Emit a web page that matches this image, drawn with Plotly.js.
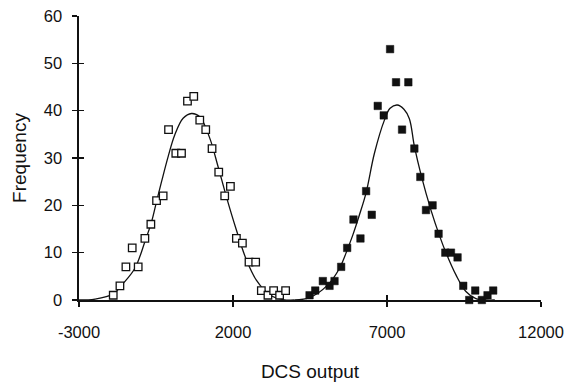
<!DOCTYPE html>
<html>
<head>
<meta charset="utf-8">
<script src="https://cdn.plot.ly/plotly-3.0.1.min.js"></script>
<style>html,body{margin:0;padding:0;background:#fff;}#chart{width:570px;height:384px;}</style>
</head>
<body>
<div id="chart"></div>
<script>
// Open squares (first population)
const openX = [-1888, -1671, -1477, -1272, -1078, -861, -667, -482, -268, -93, 143, 328, 522, 726, 921, 1115, 1320, 1537, 1731, 1916, 2110, 2305, 2519, 2736, 2920, 3134, 3319, 3513, 3708];
const openY = [1, 3, 7, 11, 7, 13, 16, 21, 22, 36, 31, 31, 42, 43, 38, 36, 32, 27, 22, 24, 13, 12, 8, 8, 2, 1, 2, 1, 2];

// Filled squares (second population)
const fillX = [4485, 4670, 4917, 5134, 5296, 5512, 5707, 5911, 6138, 6322, 6505, 6699, 6894, 7100, 7294, 7489, 7693, 7888, 8082, 8266, 8480, 8675, 8893, 9077, 9291, 9476, 9670, 9865, 10081, 10263, 10448];
const fillY = [1, 2, 4, 3, 4, 7, 11, 17, 13, 23, 18, 41, 39, 53, 46, 36, 46, 32, 26, 19, 20, 14, 10, 10, 9, 3, 0, 2, 0, 1, 2];

// Fitted curves
const fit1X = [-3000, -2481, -1888, -1564, -1185, -861, -644, -482, -320, -106, 111, 380, 652, 921, 1245, 1514, 1786, 2110, 2434, 2758, 3189, 3620, 4000];
const fit1Y = [0, 0.2, 1.3, 3.5, 6.7, 12.3, 16.5, 20.8, 25, 30.3, 34.9, 38.4, 39.4, 38.7, 34.2, 28.2, 21.8, 14.8, 8.5, 4.2, 1.1, 0.1, 0];
const fit2X = [4000, 4485, 5079, 5458, 5727, 5889, 6106, 6322, 6592, 6916, 7100, 7330, 7550, 7726, 7888, 8104, 8428, 8698, 8914, 9239, 9562, 9886, 10500];
const fit2Y = [0, 0.5, 3.2, 6.7, 10.9, 13.7, 18, 22.7, 31, 38, 40.5, 41.2, 40.3, 38.3, 32.5, 26.5, 19, 13.7, 10, 5.3, 1.8, 0.3, 0];

const xTicks = [-3000, 2000, 7000, 12000];
const yTicks = [0, 10, 20, 30, 40, 50, 60];

const font = 'Liberation Sans, Arial, sans-serif';

const traces = [
  {x: fit1X, y: fit1Y, mode: 'lines', line: {color: '#111', width: 1.3, shape: 'spline', smoothing: 1}, hoverinfo: 'skip', showlegend: false},
  {x: fit2X, y: fit2Y, mode: 'lines', line: {color: '#111', width: 1.3, shape: 'spline', smoothing: 1}, hoverinfo: 'skip', showlegend: false},
  {x: openX, y: openY, mode: 'markers', cliponaxis: false,
   marker: {symbol: 'square', size: 7.5, color: '#fff', line: {color: '#111', width: 1.3}}, showlegend: false},
  {x: fillX, y: fillY, mode: 'markers', cliponaxis: false,
   marker: {symbol: 'square', size: 7.5, color: '#111', line: {color: '#111', width: 0.5}}, showlegend: false},
  {x: [0], y: [0], xaxis: 'x2', yaxis: 'y2', mode: 'markers', marker: {opacity: 0, size: 1}, showlegend: false, hoverinfo: 'skip'}
];

const layout = {
  width: 570, height: 384,
  margin: {l: 79, r: 29, t: 16, b: 84},
  paper_bgcolor: '#fff', plot_bgcolor: '#fff',
  showlegend: false,
  font: {family: font, color: '#111'},
  xaxis: {
    range: [-3000, 12000], tickvals: xTicks, ticktext: xTicks.map(String),
    showgrid: false, zeroline: false, showline: true, linecolor: '#111', linewidth: 1.6,
    ticks: 'outside', ticklen: 5, tickwidth: 1.4, tickcolor: '#111',
    ticklabelstandoff: 12,
    tickfont: {family: font, size: 16.5, color: '#111'},
    title: {text: 'DCS output', font: {family: font, size: 19, color: '#111'}, standoff: 24}
  },
  yaxis: {
    range: [0, 60], tickvals: yTicks,
    showgrid: false, zeroline: false, showline: true, linecolor: '#111', linewidth: 1.6,
    ticks: 'outside', ticklen: 5, tickwidth: 1.4, tickcolor: '#111',
    ticklabelstandoff: 7,
    tickfont: {family: font, size: 16.5, color: '#111'},
    title: {text: 'Frequency', font: {family: font, size: 19, color: '#111'}, standoff: 12}
  },
  xaxis2: {
    overlaying: 'x', anchor: 'y2', range: [-3000, 12000], tickvals: xTicks,
    showticklabels: false, showgrid: false, zeroline: false, showline: false, visible: true,
    ticks: 'inside', ticklen: 5, tickwidth: 1.4, tickcolor: '#111', side: 'bottom'
  },
  yaxis2: {
    overlaying: 'y', anchor: 'x2', range: [0, 60], tickvals: yTicks,
    showticklabels: false, showgrid: false, zeroline: false, showline: false, visible: true,
    ticks: 'inside', ticklen: 5, tickwidth: 1.4, tickcolor: '#111', side: 'left'
  }
};

Plotly.newPlot('chart', traces, layout, {displayModeBar: false, staticPlot: true});
</script>
</body>
</html>
